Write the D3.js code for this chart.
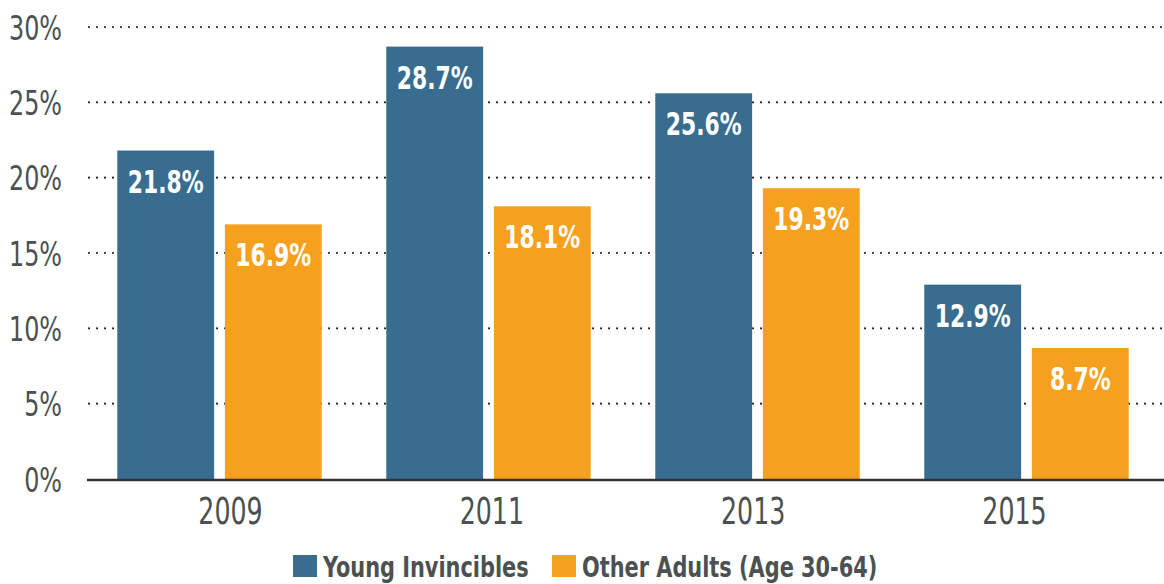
<!DOCTYPE html>
<html>
<head>
<meta charset="utf-8">
<script src="https://cdn.jsdelivr.net/npm/d3@7"></script>
<style>
  body { margin: 0; background: #fff; }
  svg text { font-family: "DejaVu Sans Condensed", "DejaVu Sans", sans-serif; }
</style>
</head>
<body>
<svg id="chart" width="1164" height="584"></svg>
<script>
// data
const years = ['2009', '2011', '2013', '2015'];
const seriesNames = ['Young Invincibles', 'Other Adults (Age 30-64)'];
const youngValues = [21.8, 28.7, 25.6, 12.9];
const otherValues = [16.9, 18.1, 19.3, 8.7];
const yTicks = [0, 5, 10, 15, 20, 25, 30];

const colors = ['#386d8f', '#f5a11f'];
const textGrey = '#4b5150';

const svg = d3.select('#chart');
const plotLeft = 87, plotRight = 1164, plotTop = 27, plotBottom = 479;

// the original font is a condensed one, squeeze the text horizontally
const squeeze = 0.78;

const y = d3.scaleLinear().domain([0, 30]).range([plotBottom, plotTop]);
const x0 = d3.scaleBand().domain(years).range([85, 1161]).paddingInner(0.24).paddingOuter(0.12);
const x1 = d3.scaleBand().domain([0, 1]).range([0, x0.bandwidth()]).paddingInner(0.1);
// year labels sit on a slightly tighter spacing than the bar groups
const xLabel = d3.scalePoint().domain(years).range([230, 1014]);

// dotted grid
const grid = svg.append('g');
grid.selectAll('line')
  .data(yTicks.filter(d => d > 0))
  .join('line')
  .attr('x1', plotLeft + 2).attr('x2', plotRight)
  .attr('y1', d => y(d)).attr('y2', d => y(d))
  .attr('stroke', '#222')
  .attr('stroke-width', 2.2)
  .attr('stroke-linecap', 'round')
  .attr('stroke-dasharray', '0,8');

// y axis labels
const yAxis = d3.axisLeft(y).tickValues(yTicks).tickFormat(d => d + '%').tickSize(0).tickPadding(0);
svg.append('g')
  .attr('transform', 'translate(62,0)')
  .call(yAxis)
  .call(g => g.select('.domain').remove())
  .selectAll('text')
  .attr('font-size', 34)
  .attr('fill', textGrey)
  .attr('x', 0)
  .attr('dy', '0.36em')
  .attr('transform', `scale(${squeeze},1)`);

// bars
const rows = years.map((yr, i) => ({ year: yr, vals: [youngValues[i], otherValues[i]] }));
const groups = svg.append('g').selectAll('g')
  .data(rows)
  .join('g')
  .attr('transform', d => `translate(${x0(d.year)},0)`);

groups.selectAll('rect')
  .data(d => d.vals.map((v, k) => ({ v, k })))
  .join('rect')
  .attr('x', d => x1(d.k))
  .attr('width', x1.bandwidth())
  .attr('y', d => y(d.v))
  .attr('height', d => y(0) - y(d.v))
  .attr('fill', d => colors[d.k]);

groups.selectAll('text.val')
  .data(d => d.vals.map((v, k) => ({ v, k })))
  .join('text')
  .attr('class', 'val')
  .attr('transform', d => `translate(${x1(d.k) + x1.bandwidth() / 2},${y(d.v) + 42}) scale(${squeeze - 0.02},1)`)
  .attr('text-anchor', 'middle')
  .attr('font-size', 32)
  .attr('font-weight', 'bold')
  .attr('fill', '#fff')
  .text(d => d.v.toFixed(1) + '%');

// baseline
svg.append('line')
  .attr('x1', plotLeft).attr('x2', plotRight)
  .attr('y1', y(0) + 1).attr('y2', y(0) + 1)
  .attr('stroke', '#333')
  .attr('stroke-width', 2.5);

// x axis labels
const xAxis = d3.axisBottom(xLabel).tickSize(0).tickPadding(0);
svg.append('g')
  .attr('transform', `translate(0,${plotBottom})`)
  .call(xAxis)
  .call(g => g.select('.domain').remove())
  .selectAll('text')
  .attr('font-size', 38)
  .attr('fill', textGrey)
  .attr('dy', null)
  .attr('y', 0)
  .attr('transform', `translate(0,45) scale(0.74,1)`);

// legend
const legendX = [293, 552];
const legend = svg.append('g').selectAll('g')
  .data(seriesNames)
  .join('g')
  .attr('transform', (d, i) => `translate(${legendX[i]},555)`);
legend.append('rect')
  .attr('width', 24).attr('height', 22)
  .attr('fill', (d, i) => colors[i]);
legend.append('text')
  .attr('transform', `translate(30,22) scale(0.8,1)`)
  .attr('font-size', 29)
  .attr('font-weight', 'bold')
  .attr('fill', textGrey)
  .text(d => d);
</script>
</body>
</html>
